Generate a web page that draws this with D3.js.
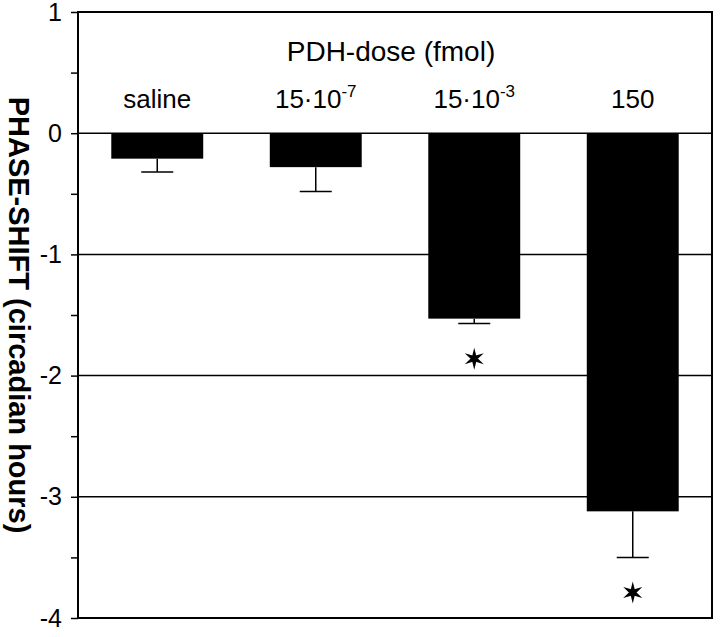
<!DOCTYPE html>
<html>
<head>
<meta charset="utf-8">
<script src="https://cdn.jsdelivr.net/npm/d3@7"></script>
<style>
  body { margin: 0; background: #fff; }
  svg { display: block; font-family: "Liberation Sans", Arial, sans-serif; }
</style>
</head>
<body>
<div id="chart"></div>
<script>
"use strict";

// PDH dose vs phase shift

//
//   DATA
//

var doses = ["saline", "15·10-7", "15·10-3", "150"];
var doseBase = ["saline", "15\u00B710", "15\u00B710", "150"];
var doseExp = ["", "-7", "-3", ""];
var shifts = [-0.21, -0.28, -1.53, -3.12];
var errors = [0.11, 0.2, 0.04, 0.38];
var significant = [false, false, true, true];
var starValues = [null, null, -1.86, -3.79];
var yTicks = [1, 0, -1, -2, -3, -4];
var gridValues = [0, -1, -2, -3];

//
//   SET UP
//

var W = 720, H = 637;
var plotLeft = 78, plotRight = 712, plotTop = 12, plotBottom = 618;

var svg = d3.select("#chart").append("svg")
    .attr("width", W)
    .attr("height", H);

var x = d3.scaleBand().domain(doses).range([plotLeft, plotRight]).paddingInner(0.42).paddingOuter(0.21);
var y = d3.scaleLinear().domain([-4, 1]).range([plotBottom, plotTop]);

// Gridlines
svg.selectAll("line.grid").data(gridValues).enter().append("line")
    .attr("class", "grid")
    .attr("x1", plotLeft).attr("x2", plotRight)
    .attr("y1", function (d) { return y(d); })
    .attr("y2", function (d) { return y(d); })
    .attr("stroke", "#000")
    .attr("stroke-width", 1.5);

// Error bars
var eb = svg.selectAll("g.err").data(doses).enter().append("g").attr("class", "err");
eb.append("line")
    .attr("x1", function (d) { return x(d) + x.bandwidth() / 2; })
    .attr("x2", function (d) { return x(d) + x.bandwidth() / 2; })
    .attr("y1", function (d, i) { return y(shifts[i]); })
    .attr("y2", function (d, i) { return y(shifts[i] - errors[i]); })
    .attr("stroke", "#000").attr("stroke-width", 1.5);
eb.append("line")
    .attr("x1", function (d) { return x(d) + x.bandwidth() / 2 - 16; })
    .attr("x2", function (d) { return x(d) + x.bandwidth() / 2 + 16; })
    .attr("y1", function (d, i) { return y(shifts[i] - errors[i]); })
    .attr("y2", function (d, i) { return y(shifts[i] - errors[i]); })
    .attr("stroke", "#000").attr("stroke-width", 1.5);

// Bars
svg.selectAll("rect.bar").data(doses).enter().append("rect")
    .attr("class", "bar")
    .attr("x", function (d) { return x(d); })
    .attr("width", x.bandwidth())
    .attr("y", y(0))
    .attr("height", function (d, i) { return y(shifts[i]) - y(0); })
    .attr("fill", "#000");

// Stars
doses.forEach(function (d, i) {
    if (!significant[i]) return;
    var cx = x(d) + x.bandwidth() / 2, cy = y(starValues[i]);
    var g = svg.append("g").attr("transform", "translate(" + cx + "," + cy + ")");
    [0, 60, 120].forEach(function (a) {
        g.append("path")
            .attr("d", "M0,-11 L2,-3 L0,0 L-2,-3 Z M0,11 L2,3 L0,0 L-2,3 Z")
            .attr("transform", "rotate(" + a + ")")
            .attr("fill", "#000");
    });
    g.append("circle").attr("r", 3.2).attr("fill", "#000");
});

// Frame
svg.append("rect")
    .attr("x", plotLeft).attr("y", plotTop)
    .attr("width", plotRight - plotLeft).attr("height", plotBottom - plotTop)
    .attr("fill", "none").attr("stroke", "#000").attr("stroke-width", 2);

// Y axis
var yAxis = d3.axisLeft(y).tickValues(yTicks).tickSize(7).tickFormat(d3.format("d"));
var ya = svg.append("g").attr("transform", "translate(" + plotLeft + ",0)").call(yAxis);
ya.select(".domain").remove();
ya.selectAll("line").attr("stroke-width", 1.5);
ya.selectAll("text").attr("font-size", 25).attr("fill", "#000")
    .attr("x", -16).attr("font-family", "Liberation Sans, Arial, sans-serif")
    .text(function (d) { return d < 0 ? "-" + Math.abs(d) : d; });
var minor = d3.axisLeft(y).tickValues(d3.range(-3.5, 1, 1)).tickSize(7).tickFormat("");
var ym = svg.append("g").attr("transform", "translate(" + plotLeft + ",0)").call(minor);
ym.select(".domain").remove();
ym.selectAll("line").attr("stroke-width", 1.5);

// Y label
svg.append("text")
    .attr("transform", "translate(9,315) rotate(90)")
    .attr("text-anchor", "middle")
    .attr("font-size", 29)
    .attr("font-weight", "bold")
    .text("PHASE-SHIFT (circadian hours)");

// Dose title
svg.append("text")
    .attr("x", 391).attr("y", 61)
    .attr("text-anchor", "middle")
    .attr("font-size", 28)
    .text("PDH-dose (fmol)");

// Category labels
var labels = svg.selectAll("text.cat").data(doses).enter().append("text")
    .attr("class", "cat")
    .attr("x", function (d) { return x(d) + x.bandwidth() / 2; })
    .attr("y", 108)
    .attr("text-anchor", "middle")
    .attr("font-size", 26);
labels.append("tspan").text(function (d, i) { return doseBase[i]; });
labels.append("tspan")
    .attr("dy", -11).attr("font-size", 17)
    .text(function (d, i) { return doseExp[i]; });
</script>
</body>
</html>
